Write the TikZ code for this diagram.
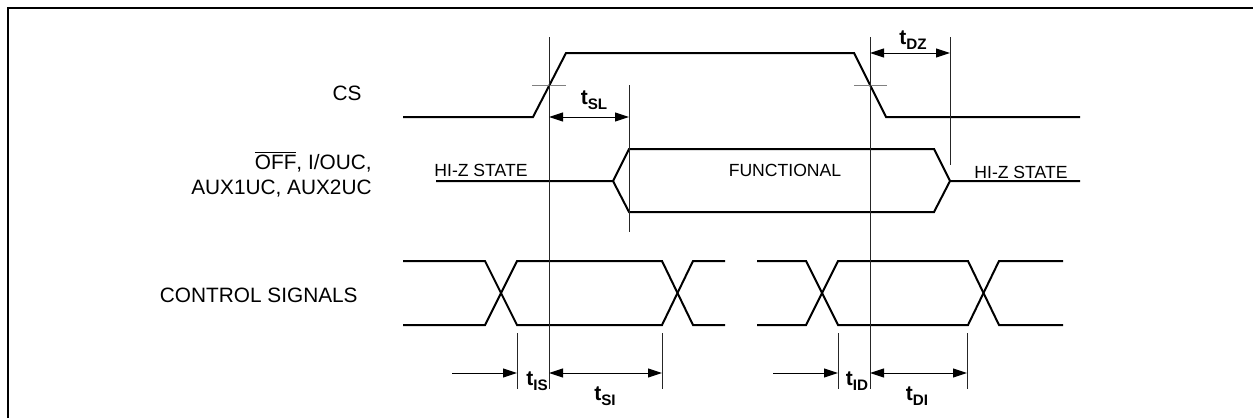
\documentclass[tikz,border=0pt]{standalone}
\usepackage{fontspec}
\setmainfont{Liberation Sans}
\usetikzlibrary{arrows.meta}
\tikzset{
  sig/.style={line width=1pt},
  guide/.style={line width=0.5pt,black!85},
  tick/.style={line width=0.5pt,gray},
  dim/.style={line width=0.5pt},
  lbl/.style={font=\fontsize{8.8}{11}\selectfont,inner sep=0pt},
  signame/.style={font=\fontsize{10.4}{12.5}\selectfont,inner sep=0pt},
}
\newcommand{\tname}[1]{{\bfseries\fontsize{10.5}{12}\selectfont t\raisebox{-0.5ex}{\fontsize{7.6}{9}\selectfont #1}}}
\begin{document}
\begin{tikzpicture}[x=0.5pt,y=-0.5pt,>={Triangle[length=7pt,width=4.5pt]}]
\useasboundingbox (0,0) rectangle (1253,418);
\draw[line width=1pt] (7.5,418) -- (7.5,7.5) -- (1253,7.5);
% signal names
\node[signame] (cs) at (347,93) {CS};
\node[signame,align=right,anchor=east] (bus) at (372,174) {$\overline{\hbox{OFF}}$, I/OUC,\\AUX1UC, AUX2UC};
\node[signame,anchor=east] (ctrl) at (358,295) {CONTROL SIGNALS};
% CS
\draw[sig] (403,117) -- (533,117) -- (566,53) -- (854,53) -- (886,117) -- (1080,117);
\draw[tick] (532,85) -- (566,85);
\draw[tick] (854,85) -- (887,85);
% bus
\draw[sig] (436,181) -- (613,181) -- (629,149) -- (934,149) -- (950,181) -- (1080,181);
\draw[sig] (613,181) -- (629,212) -- (934,212) -- (950,181);
\node[lbl] (hiz1) at (481,170) {HI-Z STATE};
\node[lbl] (func) at (785,170) {FUNCTIONAL};
\node[lbl] (hiz2) at (1021,172) {HI-Z STATE};
% control signals
\foreach \a/\b/\c/\d/\e/\f in {403/485/517/662/693/725,757/806/838/968/999/1063}{
	\draw[sig] (\a,261) -- (\b,261) -- (\c,325) -- (\d,325) -- (\e,261) -- (\f,261);
	\draw[sig] (\a,325) -- (\b,325) -- (\c,261) -- (\d,261) -- (\e,325) -- (\f,325);}
% guides
\foreach \x in {549,870}{
	\draw[guide] (\x,37) -- (\x,389);}
\draw[guide] (629,85) -- (629,232);
\draw[guide] (950,37) -- (950,165);
\foreach \x in {517,662,838,967}{
	\draw[guide] (\x,333) -- (\x,389);}
% timings
\draw[dim,<->] (549,117) -- (629,117);
\node[lbl] (tsl) at (594,100) {\tname{SL}};
\draw[dim,<->] (870,53) -- (950,53);
\node[lbl] (tdz) at (913,40) {\tname{DZ}};
\draw[dim,->] (452,373) -- (517,373);
\draw[dim,<->] (549,373) -- (662,373);
\node[lbl] (tis) at (537,381) {\tname{IS}};
\node[lbl] (tsi) at (605,396) {\tname{SI}};
\draw[dim,->] (773,373) -- (838,373);
\draw[dim,<->] (870,373) -- (967,373);
\node[lbl] (tid) at (857,381) {\tname{ID}};
\node[lbl] (tdi) at (917,396) {\tname{DI}};
\end{tikzpicture}
\end{document}
